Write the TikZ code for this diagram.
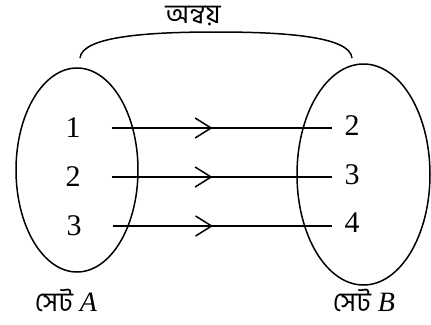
\documentclass[tikz,border=0pt]{standalone}
\usepackage{fontspec}
\setmainfont{Liberation Serif}
\newfontfamily\bnfont[Script=Bengali]{Hind Siliguri}
\usetikzlibrary{arrows.meta,decorations.markings,shapes.geometric}
\tikzset{
  num/.style={font=\fontsize{30}{30}\selectfont, inner sep=2pt},
  setlab/.style={font=\fontsize{28}{28}\selectfont, inner sep=0pt},
  setshape/.style={draw, line width=1.5pt, ellipse, inner sep=0pt},
  conn/.style={line width=1.5pt, shorten <=29pt, shorten >=10pt,
    postaction={decorate},
    decoration={markings, mark=at position 0.5 with {\arrow{Straight Barb[length=16pt,width=20pt,line width=1.5pt]}}}},
  rel/.style={line width=1.5pt}
}
\begin{document}
\begin{tikzpicture}[x=1pt,y=-1pt]
\useasboundingbox (0,0) rectangle (431,324);
\node[setshape, minimum width=122pt, minimum height=204pt] (A) at (77,170) {};
\node[setshape, minimum width=133pt, minimum height=221pt] (B) at (363.5,174.5) {};
\node[num] (a1) at (73,128) {1};
\node[num] (a2) at (73,177) {2};
\node[num] (a3) at (74,226) {3};
\node[num] (b1) at (352,126) {2};
\node[num] (b2) at (352,175) {3};
\node[num] (b3) at (352,223) {4};
\draw[conn] (a1.east) -- (a1.east -| b1.west);
\draw[conn] (a2.east) -- (a2.east -| b2.west);
\draw[conn] (a3.east) -- (a3.east -| b3.west);
\coordinate (r1) at (80,58);
\coordinate (r2) at (352,58);
\draw[rel] (r1) .. controls (82,36) and (150,32) .. (216,32) .. controls (282,32) and (350,36) .. (r2);
\node[font=\bnfont\fontsize{27}{27}\selectfont, inner sep=0pt] (rl) at (193,16) {অন্বয়};
\node[setlab] (la) at (66,300) {{\bnfont\fontsize{27}{27}\selectfont সেট} \textit{A}};
\node[setlab] (lb) at (364,300) {{\bnfont\fontsize{27}{27}\selectfont সেট} \textit{B}};
\end{tikzpicture}
\end{document}
